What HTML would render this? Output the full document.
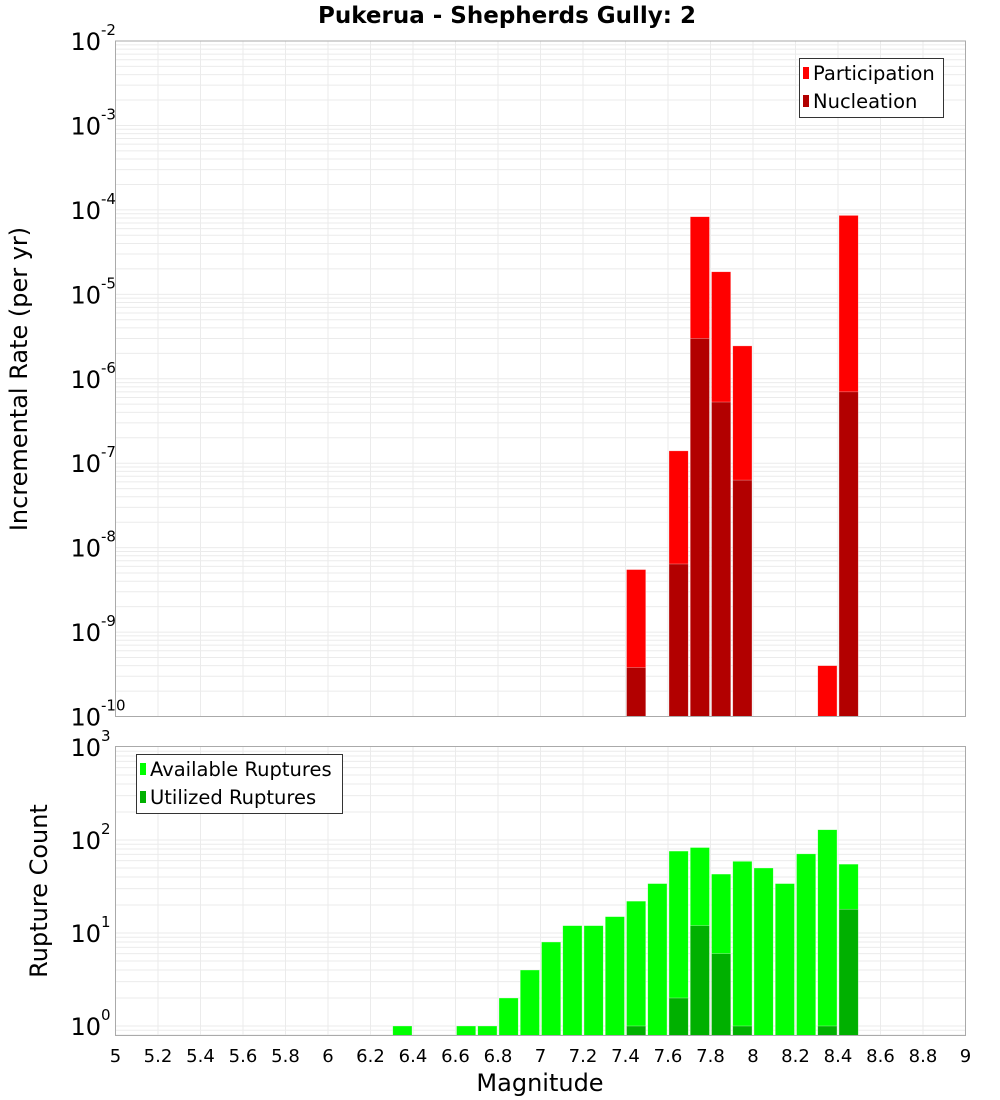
<!DOCTYPE html>
<html><head><meta charset="utf-8"><style>
body{margin:0;background:#fff;}
svg{display:block;font-family:"DejaVu Sans","Liberation Sans",sans-serif;}
</style></head><body>
<svg id="c" width="1000" height="1100" xmlns="http://www.w3.org/2000/svg">
<text x="507" y="23" text-anchor="middle" font-size="23" font-weight="bold">Pukerua - Shepherds Gully: 2</text>
<text transform="translate(27,379) rotate(-90)" text-anchor="middle" font-size="24">Incremental Rate (per yr)</text>
<text transform="translate(47,891) rotate(-90)" text-anchor="middle" font-size="24">Rupture Count</text>
<text x="540" y="1091" text-anchor="middle" font-size="24">Magnitude</text>
<g id="gtop"></g><g id="gbot"></g><g id="xt"></g>
<g>
<rect x="799.5" y="58.5" width="144" height="59" fill="#fff" stroke="#333"/>
<rect x="803" y="67" width="6" height="12" fill="#ff0000"/>
<text x="813" y="80" font-size="19.5">Participation</text>
<rect x="803" y="95" width="6" height="12" fill="#b20000"/>
<text x="813" y="108" font-size="19.5">Nucleation</text>
</g>
<g>
<rect x="136.5" y="754.5" width="206" height="59" fill="#fff" stroke="#333"/>
<rect x="140" y="763" width="6" height="12" fill="#00ff00"/>
<text x="150" y="776" font-size="19.5">Available Ruptures</text>
<rect x="140" y="791" width="6" height="12" fill="#00b000"/>
<text x="150" y="804" font-size="19.5">Utilized Ruptures</text>
</g>
</svg>
<script>
const mags=[6.35,6.45,6.55,6.65,6.75,6.85,6.95,7.05,7.15,7.25,7.35,7.45,7.55,7.65,7.75,7.85,7.95,8.05,8.15,8.25,8.35,8.45];
const available=[1,0,0,1,1,2,4,8,12,12,15,22,34,76,83,43,59,50,34,71,129,55];
const utilized=[0,0,0,0,0,0,0,0,0,0,0,1,0,2,12,6,1,0,0,0,1,18];
const rateMags=[7.45,7.65,7.75,7.85,7.95,8.35,8.45];
const participation=[5.5e-9,1.4e-7,8.3e-5,1.85e-5,2.45e-6,4.0e-10,8.6e-5];
const nucleation=[3.8e-10,6.4e-9,3.0e-6,5.3e-7,6.3e-8,0,7.0e-7];
const xTicks=[5,5.2,5.4,5.6,5.8,6,6.2,6.4,6.6,6.8,7,7.2,7.4,7.6,7.8,8,8.2,8.4,8.6,8.8,9];
const topExps=[-2,-3,-4,-5,-6,-7,-8,-9,-10];
const botExps=[0,1,2,3];

const NS="http://www.w3.org/2000/svg";
const L=115.5,R=965.5;
const x=m=>L+(m-5)*(R-L)/4;
const T1=41,B1=716.5;
const yTop=v=>T1+(-2-Math.log10(v))*(B1-T1)/8;
const T2=746.5,B2=1035.5;
const yBot=v=>1026-Math.log10(v)*93;
function el(p,t,a){const e=document.createElementNS(NS,t);for(const k in a)e.setAttribute(k,a[k]);p.appendChild(e);return e;}
function panel(g,T,B,minE,maxE,yf,name){
  for(let e=minE;e<maxE+1;e++)for(let k=1;k<10;k++){const v=k*Math.pow(10,e);const y=yf(v);if(y<T-0.5||y>B+0.5)continue;
    const ln=el(g,'line',{x1:L,x2:R,y1:y,y2:y,stroke:'#ebebeb','stroke-width':1});
    
    }
  xTicks.forEach(t=>{const ln=el(g,'line',{x1:x(t),x2:x(t),y1:T,y2:B,stroke:'#ebebeb'});
    
    });
}
function bar(g,m,v,y0,yf,col,name){
  if(!v)return;const y=yf(v);
  const r=el(g,'rect',{x:x(m-0.05)+1,y:y,width:(R-L)/40-2,height:y0-y,fill:col,stroke:'#fff','stroke-opacity':0.5,'stroke-width':0.6});
  
  
}
function ylab(g,y,e,name){
  const t=el(g,'text',{x:101,y:y+9,'text-anchor':'end','font-size':24});t.textContent='10';
  
  
  const s=el(g,'text',{x:101,y:y-6,'font-size':15});s.textContent=String(e);
  
  
}
const gTop=document.getElementById('gtop'),gBot=document.getElementById('gbot'),xt=document.getElementById('xt');
panel(gTop,T1,B1,-10,-3,yTop,'top');
panel(gBot,T2,B2,-1,2,yBot,'bottom');
rateMags.forEach((m,i)=>{bar(gTop,m,participation[i],B1,yTop,'#ff0000','participation-bar');});
rateMags.forEach((m,i)=>{bar(gTop,m,nucleation[i],B1,yTop,'#b20000','nucleation-bar');});
mags.forEach((m,i)=>{bar(gBot,m,available[i],B2,yBot,'#00ff00','available-bar');});
mags.forEach((m,i)=>{bar(gBot,m,utilized[i],B2,yBot,'#00b000','utilized-bar');});
el(gTop,'rect',{x:L,y:T1,width:R-L,height:B1-T1,fill:'none',stroke:'#aaa'});
el(gBot,'rect',{x:L,y:T2,width:R-L,height:B2-T2,fill:'none',stroke:'#aaa'});
topExps.forEach(e=>ylab(gTop,yTop(Math.pow(10,e)),e,'top-y-tick-label'));
botExps.forEach(e=>ylab(gBot,yBot(Math.pow(10,e)),e,'bottom-y-tick-label'));
xTicks.forEach(t=>{const tx=el(xt,'text',{x:x(t),y:1062,'text-anchor':'middle','font-size':18});
  tx.textContent=String(Number(t.toFixed(1)));
  
  });
</script>
</body></html>
